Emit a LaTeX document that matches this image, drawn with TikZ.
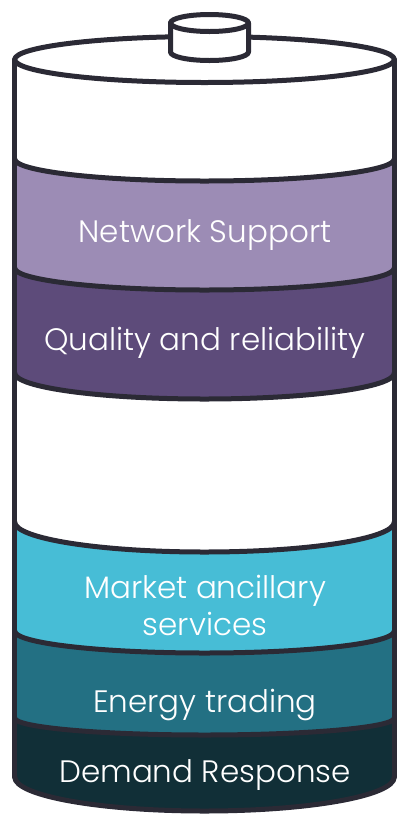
\documentclass[tikz,border=0pt]{standalone}
\usepackage{fontspec}
\setmainfont{Poppins}[UprightFont={* Light}]
\definecolor{outl}{HTML}{2B2A35}
\definecolor{lpurple}{HTML}{9C8CB5}
\definecolor{dpurple}{HTML}{5D4B7A}
\definecolor{cyanb}{HTML}{47BDD6}
\definecolor{tealb}{HTML}{237083}
\definecolor{darkb}{HTML}{112F37}
\newcommand\bandfill[5]{%
  \fill[#1] (14.7,-#2) arc[start angle=180,end angle=360,x radius=189.8pt,y radius=#3pt]
    -- (394.3,-#4) arc[start angle=0,end angle=-180,x radius=189.8pt,y radius=#5pt] -- cycle;}
\newcommand\bandline[2]{%
  \draw[outline] (14.7,-#1) arc[start angle=180,end angle=360,x radius=189.8pt,y radius=#2pt];}
\begin{document}
\begin{tikzpicture}[x=1pt,y=1pt,
  outline/.style={draw=outl,line width=5pt,line join=round,line cap=round},
  label/.style={text=white,font=\fontsize{31}{37}\selectfont,align=center,inner sep=0pt,anchor=base}]
\useasboundingbox (0,0) rectangle (398,-815);
% coloured bands
\bandfill{lpurple}{159}{22}{268}{22}
\bandfill{dpurple}{268}{22}{373}{26}
\bandfill{cyanb}{522}{30}{631}{22}
\bandfill{tealb}{631}{22}{718}{17}
\bandfill{darkb}{718}{17}{777}{34}
% outline of body
\draw[outline] (204.5,-59.5) ellipse[x radius=189.8pt,y radius=23pt];
\draw[outline] (14.7,-59.5) -- (14.7,-777);
\draw[outline] (394.3,-59.5) -- (394.3,-777);
\bandline{159}{22}
\bandline{268}{22}
\bandline{373}{26}
\bandline{522}{30}
\bandline{631}{22}
\bandline{718}{17}
\bandline{777}{34}
% cap
\filldraw[outline,fill=white] (170.5,-23) -- (170.5,-52)
  arc[start angle=180,end angle=360,x radius=39pt,y radius=8.5pt] -- (248.5,-23);
\filldraw[outline,fill=white] (209.5,-23) ellipse[x radius=39pt,y radius=8.5pt];
% labels
\node[label] (ns) at (205,-242) {Network Support};
\node[label] (qr) at (205,-350) {Quality and reliability};
\node[label] (mas) at (205,-635) {Market ancillary\\services};
\node[label] (et) at (205,-712) {Energy trading};
\node[label] (dr) at (205,-782) {Demand Response};
\end{tikzpicture}
\end{document}
